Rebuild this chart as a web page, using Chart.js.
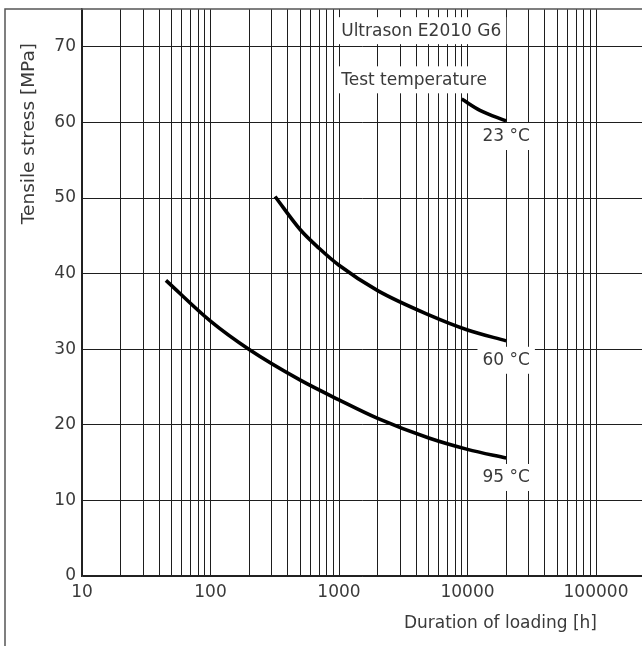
<!DOCTYPE html>
<html>
<head>
<meta charset="utf-8">
<script src="https://cdn.jsdelivr.net/npm/chart.js@4.4.1/dist/chart.umd.min.js"></script>
<style>
    html, body { margin: 0; padding: 0; background: #fff; }
    #wrap { width: 642px; height: 646px; position: relative; }
</style>
</head>
<body>
<div id="wrap"><canvas id="chart"></canvas></div>
<script>
// Curves (duration in h, stress in MPa)
const hours95 = [45, 100, 200, 500, 1000, 2000, 5000, 10000, 20000];
const stress95 = [39.1, 33.7, 29.95, 25.9, 23.3, 20.85, 18.25, 16.75, 15.6];

const hours60 = [318, 500, 700, 1000, 2000, 5000, 10000, 20000];
const stress60 = [50.2, 45.8, 43.35, 41.1, 37.75, 34.55, 32.55, 31.1];

const hours23 = [9010, 12500, 20000];
const stress23 = [63.1, 61.6, 60.2];

const seriesNames = ["23 °C", "60 °C", "95 °C"];

// grid lines and tick labels
const gridHours = [10, 20, 30, 40, 50, 60, 70, 80, 90,
    100, 200, 300, 400, 500, 600, 700, 800, 900,
    1000, 2000, 3000, 4000, 5000, 6000, 7000, 8000, 9000,
    10000, 20000, 30000, 40000, 50000, 60000, 70000, 80000, 90000,
    100000];
const hourLabels = [10, 100, 1000, 10000, 100000];
const stressTicks = [0, 10, 20, 30, 40, 50, 60, 70];

const xTitle = "Duration of loading [h]";
const yTitle = "Tensile stress [MPa]";

// text placed inside the plot (anchored in data units)
const notes = [
    { text: "Ultrason E2010 G6", x: 1040, y: 72.2, align: "left" },
    { text: "Test temperature", x: 1040, y: 65.7, align: "left" },
    { text: seriesNames[0], x: 20000, y: 58.2, align: "center" },
    { text: seriesNames[1], x: 20000, y: 28.6, align: "center" },
    { text: seriesNames[2], x: 20000, y: 13.1, align: "center" }
];

const FONT = "DejaVu Sans";
const TEXT = "#3a3a3a";
const GRID = "#1e1e1e";

function toPoints(xs, ys) {
    return xs.map((x, i) => ({ x: x, y: ys[i] }));
}

function curve(label, xs, ys) {
    return {
        label: label,
        data: toPoints(xs, ys),
        borderColor: "#000",
        borderWidth: 3.6,
        pointRadius: 0,
        cubicInterpolationMode: "monotone",
        fill: false
    };
}

// notes, axis titles and outer frame
const extras = {
    id: "extras",
    afterDatasetsDraw(chart) {
        const ctx = chart.ctx;
        const xs = chart.scales.x;
        const ys = chart.scales.y;
        ctx.save();
        ctx.font = "17px '" + FONT + "'";
        ctx.textBaseline = "middle";
        notes.forEach((n) => {
            const px = xs.getPixelForValue(n.x);
            const py = ys.getPixelForValue(n.y);
            const w = ctx.measureText(n.text).width;
            const left = n.align === "left" ? px : px - w / 2;
            ctx.fillStyle = "#fff";
            ctx.fillRect(left - 5, py - 13, w + 10, 27);
            ctx.fillStyle = TEXT;
            ctx.textAlign = "left";
            ctx.fillText(n.text, left, py + 1);
        });
        ctx.restore();
    },
    afterDraw(chart) {
        const ctx = chart.ctx;
        const area = chart.chartArea;
        const xs = chart.scales.x;
        ctx.save();
        ctx.fillStyle = TEXT;
        ctx.font = "17px '" + FONT + "'";
        ctx.textBaseline = "middle";
        ctx.textAlign = "right";
        ctx.fillText(xTitle, xs.getPixelForValue(100000) + 1, 624);

        ctx.translate(29, area.top + 34);
        ctx.rotate(-Math.PI / 2);
        ctx.font = "18.5px '" + FONT + "'";
        ctx.fillText(yTitle, 0, 0);
        ctx.restore();

        ctx.save();
        ctx.strokeStyle = "#555";
        ctx.lineWidth = 1.5;
        ctx.beginPath();
        ctx.moveTo(5, chart.height + 2);
        ctx.lineTo(5, area.top);
        ctx.lineTo(chart.width + 2, area.top);
        ctx.stroke();
        ctx.restore();
    }
};

const ctx = document.getElementById("chart");
const chart = new Chart(ctx, {
    type: "line",
    data: {
        datasets: [
            curve(seriesNames[0], hours23, stress23),
            curve(seriesNames[1], hours60, stress60),
            curve(seriesNames[2], hours95, stress95)
        ]
    },
    options: {
        responsive: true,
        maintainAspectRatio: false,
        animation: false,
        layout: { padding: { top: 9, left: 0, right: 0, bottom: 0 } },
        plugins: {
            legend: { display: false },
            tooltip: { enabled: false }
        },
        scales: {
            x: {
                type: "logarithmic",
                min: 10,
                max: 228000,
                afterBuildTicks: (axis) => {
                    axis.ticks = gridHours.map((v) => ({ value: v }));
                },
                afterFit: (axis) => {
                    axis.height = 70;
                    axis.paddingLeft = 0;
                    axis.paddingRight = 0;
                },
                grid: { color: GRID, lineWidth: 1, drawTicks: false },
                border: { color: "#222", width: 1.5 },
                ticks: {
                    autoSkip: false,
                    maxRotation: 0,
                    minRotation: 0,
                    padding: 6,
                    color: TEXT,
                    font: { family: FONT, size: 17 },
                    callback: (v) => hourLabels.includes(v) ? String(v) : ""
                }
            },
            y: {
                min: 0,
                max: 75,
                afterBuildTicks: (axis) => {
                    axis.ticks = stressTicks.map((v) => ({ value: v }));
                },
                afterFit: (axis) => {
                    axis.width = 82;
                    axis.paddingTop = 0;
                    axis.paddingBottom = 0;
                },
                grid: { color: GRID, lineWidth: 1, drawTicks: false },
                border: { color: "#222", width: 1.5 },
                ticks: {
                    padding: 6,
                    color: TEXT,
                    font: { family: FONT, size: 17 }
                }
            }
        }
    },
    plugins: [extras]
});
</script>
</body>
</html>
